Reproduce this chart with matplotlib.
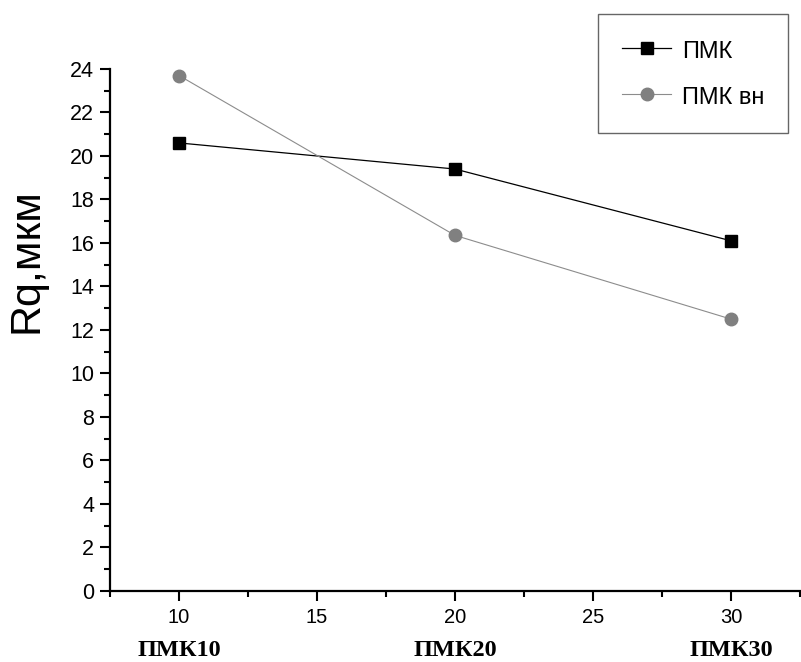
import matplotlib.pyplot as plt
from matplotlib.ticker import MultipleLocator
import matplotlib.transforms as mtransforms

x_vals = [10, 20, 30]
pmk = [20.6, 19.4, 16.1]
pmk_vn = [23.7, 16.35, 12.5]
group_labels = ['ПМК10', 'ПМК20', 'ПМК30']

plt.rcParams['font.family'] = ['Liberation Sans', 'DejaVu Sans']

fig = plt.figure(figsize=(8.01, 6.62), dpi=100)
ax = fig.add_axes([0.1373, 0.1073, 0.8614, 0.7885])

ax.plot(x_vals, pmk, color='black', lw=0.9, marker='s', ms=8, label='ПМК')
ax.plot(x_vals, pmk_vn, color='#8c8c8c', lw=0.8, marker='o', ms=9,
        markerfacecolor='#808080', markeredgecolor='#808080', label='ПМК вн')

ax.set_xlim(7.5, 32.5)
ax.set_ylim(0, 24)
ax.xaxis.set_major_locator(MultipleLocator(5))
ax.xaxis.set_minor_locator(MultipleLocator(2.5))
ax.yaxis.set_major_locator(MultipleLocator(2))
ax.yaxis.set_minor_locator(MultipleLocator(1))

for side in ['top', 'right']:
    ax.spines[side].set_visible(False)
for side in ['left', 'bottom']:
    ax.spines[side].set_linewidth(1.6)

ax.tick_params(which='major', direction='out', length=7.5, width=1.5)
ax.tick_params(which='minor', direction='out', length=4, width=1.5)
ax.tick_params(axis='x', pad=5, labelsize=14.5)
ax.tick_params(axis='y', pad=4, labelsize=15.5)

# подпись оси Y (сдвинута вверх, как в оригинале)
fig.text(26 / 801, 1 - 261 / 662, 'Rq,мкм', rotation=90, ha='center', va='center',
         fontsize=31)

# подписи групп под осью
trans = mtransforms.blended_transform_factory(ax.transData, ax.transAxes)
for xv, lab in zip(x_vals, group_labels):
    ax.text(xv, -0.1245, lab, transform=trans, ha='center', va='baseline',
            fontsize=17.5, fontweight='bold', family=['Liberation Serif', 'DejaVu Serif'])

leg = fig.legend(loc='upper right', bbox_to_anchor=(788 / 801, 1 - 14 / 662),
                 borderaxespad=0, fontsize=17, frameon=True, fancybox=False,
                 edgecolor='#404040', handlelength=2.1, handleheight=1.2,
                 handletextpad=0.45, borderpad=1.0, labelspacing=0.9)
leg.get_frame().set_linewidth(1.0)

fig.savefig('out.png', dpi=100)
